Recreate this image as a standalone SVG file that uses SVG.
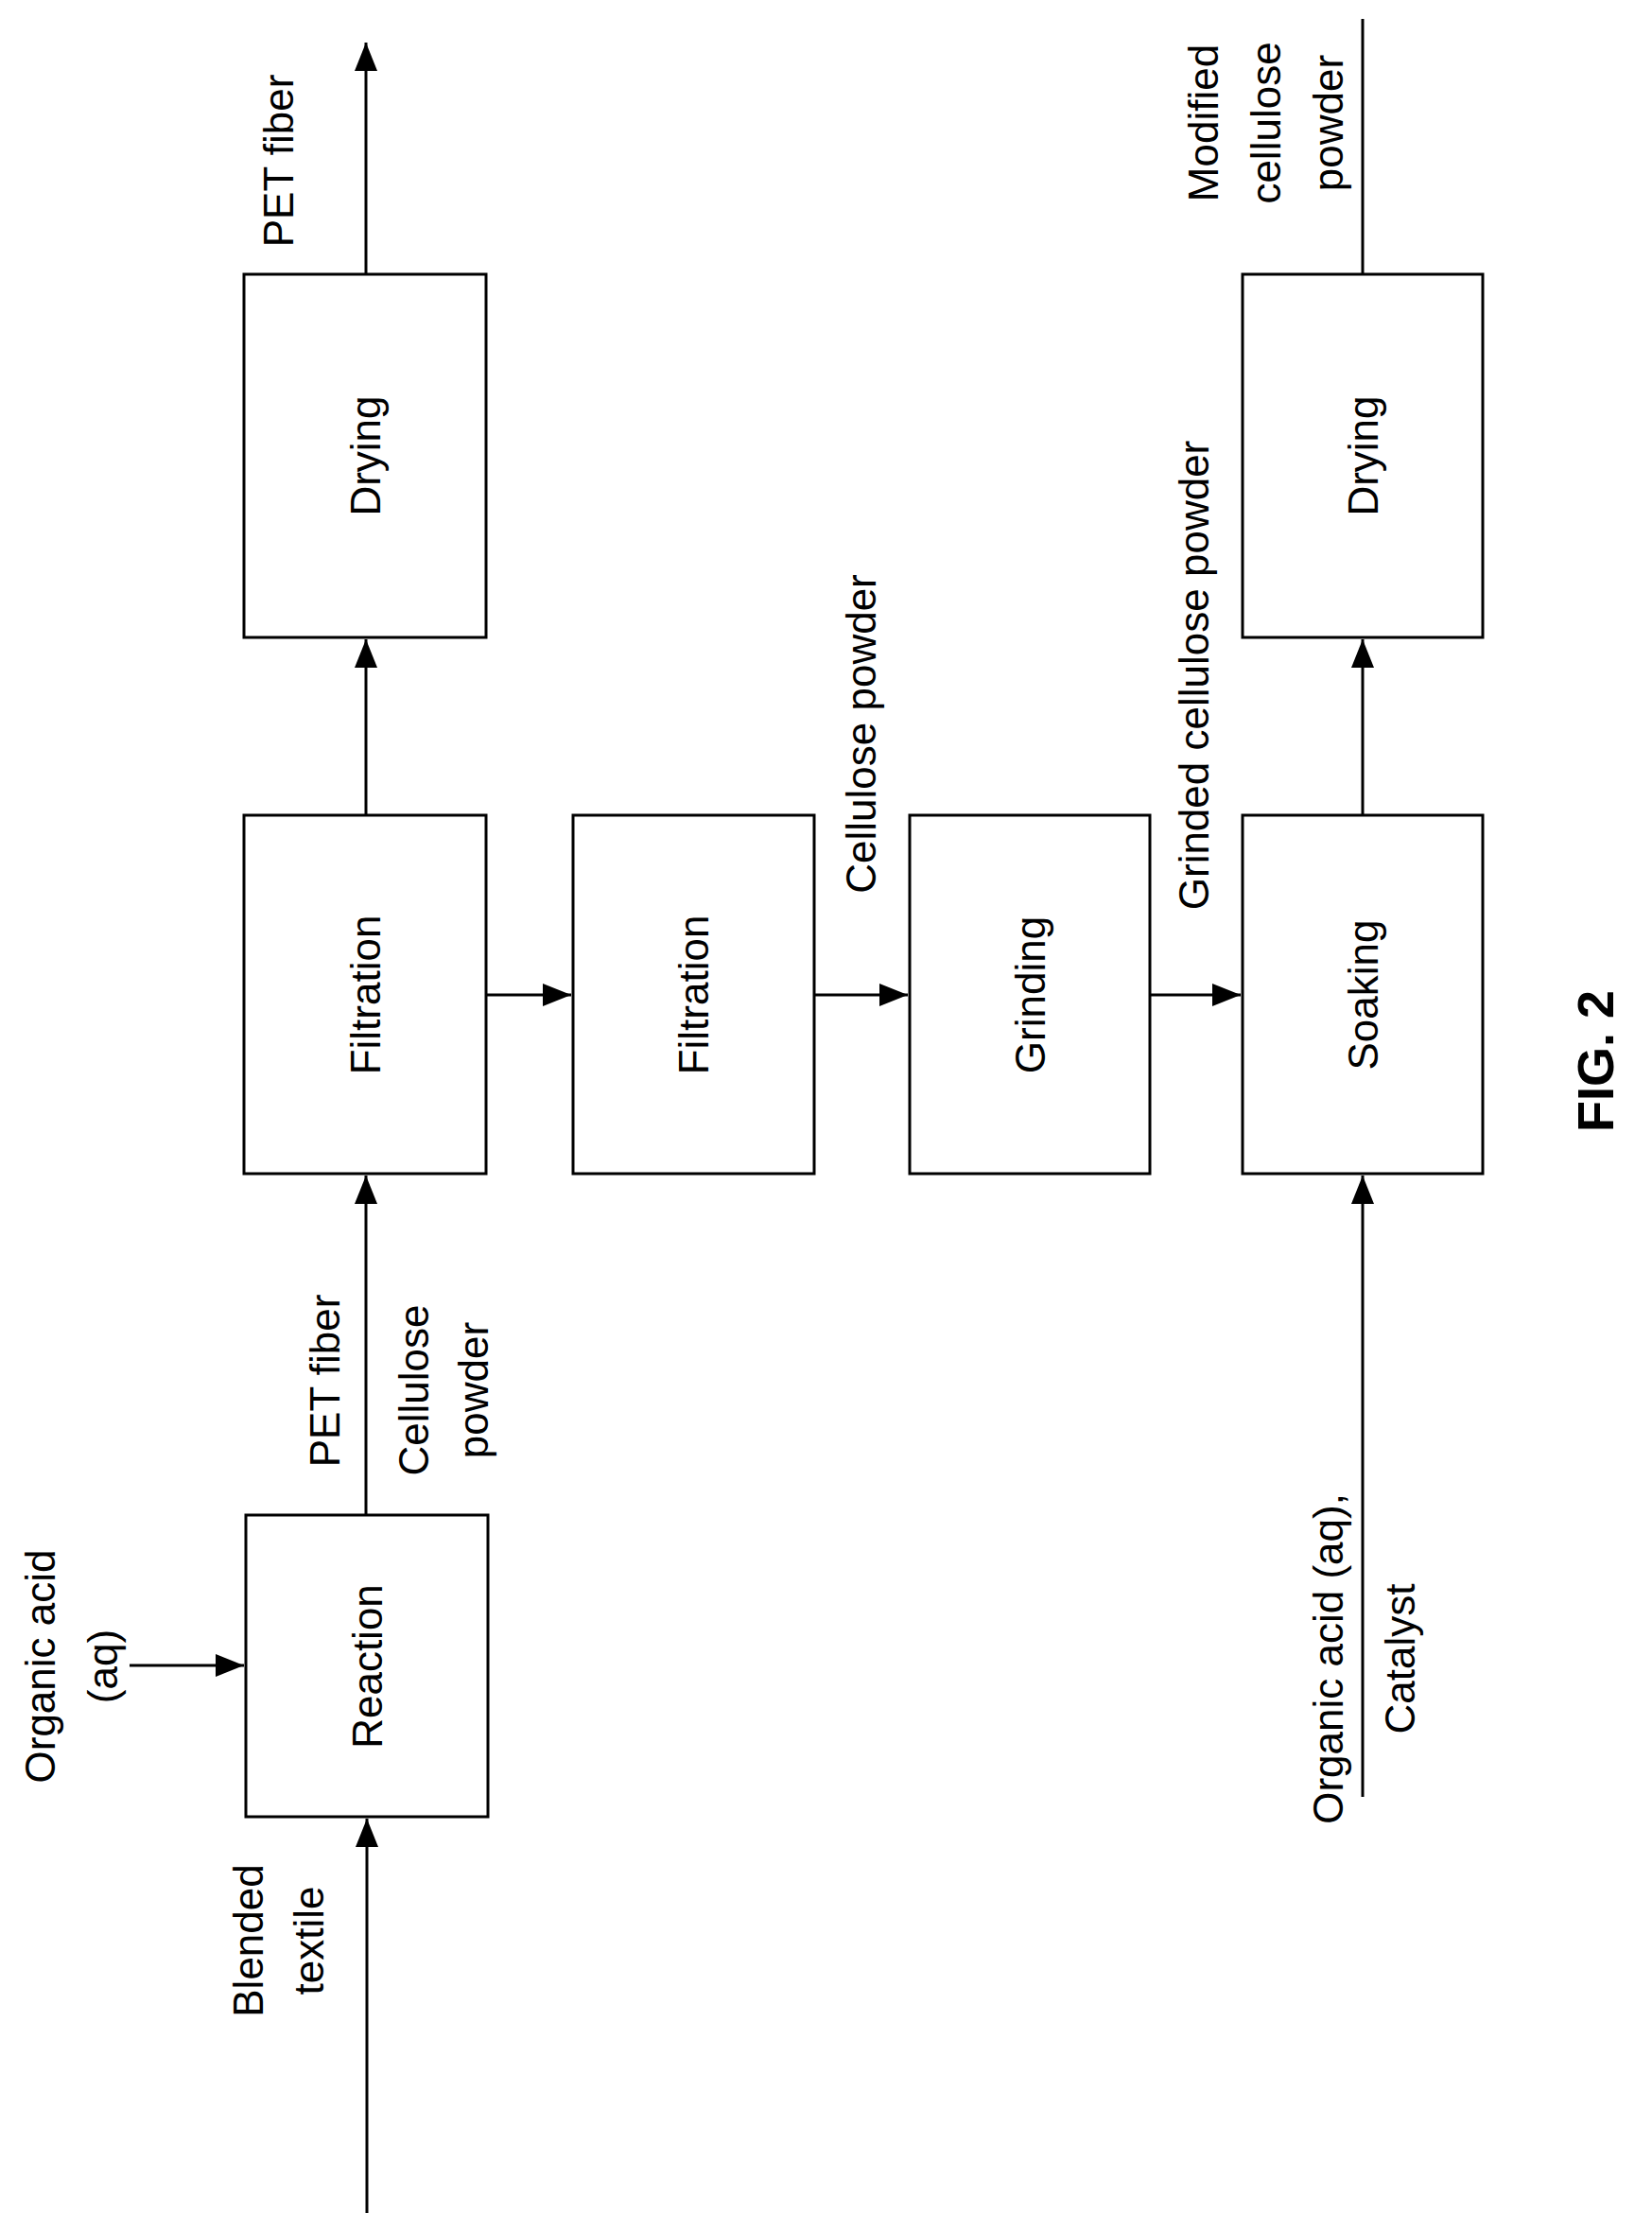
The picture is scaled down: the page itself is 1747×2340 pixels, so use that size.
<svg xmlns="http://www.w3.org/2000/svg" width="1747" height="2340" viewBox="0 0 1747 2340">
<style>
.b{fill:#fff;stroke:#000;stroke-width:3}
.l{stroke:#000;stroke-width:3;fill:none}
text{font-family:"Liberation Sans",Arial,sans-serif;font-size:44px;fill:#000;text-anchor:middle;dominant-baseline:central}
</style>
<defs>
<marker id="A" viewBox="0 0 10 10" refX="10" refY="5" markerWidth="30" markerHeight="24" markerUnits="userSpaceOnUse" orient="auto" preserveAspectRatio="none"><path d="M0,0L10,5L0,10z" fill="#000"/></marker></defs>
<g id="connectors">
<line class="l" x1="388" y1="2340" x2="388" y2="1923" marker-end="url(#A)"/>
<line class="l" x1="137" y1="1761" x2="258" y2="1761" marker-end="url(#A)"/>
<line class="l" x1="387" y1="1602" x2="387" y2="1243" marker-end="url(#A)"/>
<line class="l" x1="387" y1="862" x2="387" y2="676" marker-end="url(#A)"/>
<line class="l" x1="387" y1="290" x2="387" y2="45" marker-end="url(#A)"/>
<line class="l" x1="514" y1="1052" x2="604" y2="1052" marker-end="url(#A)"/>
<line class="l" x1="861" y1="1052" x2="960" y2="1052" marker-end="url(#A)"/>
<line class="l" x1="1216" y1="1052" x2="1312" y2="1052" marker-end="url(#A)"/>
<line class="l" x1="1441" y1="1900" x2="1441" y2="1243" marker-end="url(#A)"/>
<line class="l" x1="1441" y1="862" x2="1441" y2="676" marker-end="url(#A)"/>
<line class="l" x1="1441" y1="290" x2="1441" y2="20"/>
</g>
<g id="reaction"><rect class="b" x="260" y="1602" width="256" height="319"/><text transform="translate(388,1762) rotate(-90)">Reaction</text></g>
<g id="filtration1"><rect class="b" x="258" y="862" width="256" height="379"/><text transform="translate(386,1052) rotate(-90)">Filtration</text></g>
<g id="drying1"><rect class="b" x="258" y="290" width="256" height="384"/><text transform="translate(386,482) rotate(-90)">Drying</text></g>
<g id="filtration2"><rect class="b" x="606" y="862" width="255" height="379"/><text transform="translate(733,1052) rotate(-90)">Filtration</text></g>
<g id="grinding"><rect class="b" x="962" y="862" width="254" height="379"/><text transform="translate(1089,1052) rotate(-90)">Grinding</text></g>
<g id="soaking"><rect class="b" x="1314" y="862" width="254" height="379"/><text transform="translate(1441,1052) rotate(-90)">Soaking</text></g>
<g id="drying2"><rect class="b" x="1314" y="290" width="254" height="384"/><text transform="translate(1441,482) rotate(-90)">Drying</text></g>
<g id="labels">
<text transform="translate(42,1762) rotate(-90)">Organic acid</text>
<text transform="translate(108,1762) rotate(-90)">(aq)</text>
<text transform="translate(262,2052) rotate(-90)">Blended</text>
<text transform="translate(326,2052) rotate(-90)">textile</text>
<text transform="translate(343,1460) rotate(-90)">PET fiber</text>
<text transform="translate(437,1470) rotate(-90)">Cellulose</text>
<text transform="translate(500,1470) rotate(-90)">powder</text>
<text transform="translate(294,170) rotate(-90)">PET fiber</text>
<text transform="translate(910,776) rotate(-90)">Cellulose powder</text>
<text transform="translate(1262,714) rotate(-90)">Grinded cellulose powder</text>
<text transform="translate(1272,130) rotate(-90)">Modified</text>
<text transform="translate(1338,130) rotate(-90)">cellulose</text>
<text transform="translate(1404,130) rotate(-90)">powder</text>
<text transform="translate(1404,1754) rotate(-90)">Organic acid (aq),</text>
<text transform="translate(1480,1754) rotate(-90)">Catalyst</text>
<text transform="translate(1687,1122) rotate(-90)" style="font-weight:bold;font-size:54px">FIG. 2</text>
</g>
</svg>
